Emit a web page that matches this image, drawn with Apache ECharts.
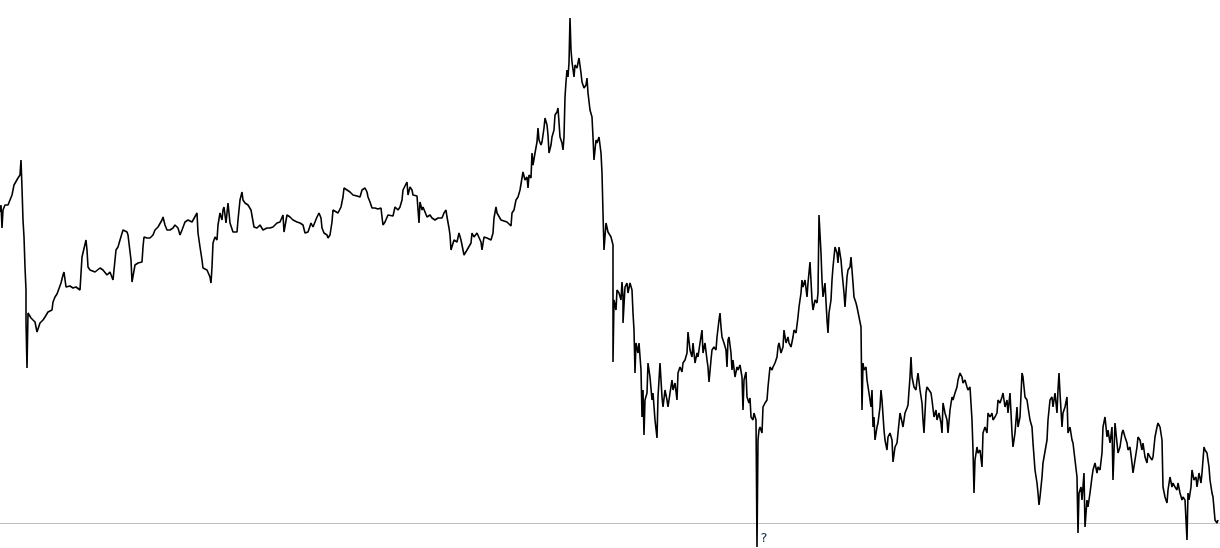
<!DOCTYPE html>
<html>
<head>
<meta charset="utf-8">
<title>price line</title>
<script src="https://cdn.jsdelivr.net/npm/echarts@6/dist/echarts.min.js"></script>
<style>
  html, body { margin: 0; padding: 0; background: #fff; }
  #chart { width: 1220px; height: 548px; }
</style>
</head>
<body>
<div id="chart"></div>
<script>
// time index of each sample
const t = [
  0, 1, 2, 3, 5, 8, 10, 12, 14, 16, 18, 20, 21, 22, 23, 24, 25, 26, 26, 27, 28, 30, 31, 33, 35, 37, 40, 43, 45, 48,
  50, 52, 53, 55, 57, 59, 61, 63, 64, 66, 68, 70, 73, 76, 78, 80, 82, 86, 87, 88, 90, 95, 100, 103, 107, 110, 113, 115, 116, 118,
  120, 123, 127, 128, 130, 131, 132, 135, 138, 142, 143, 144, 147, 150, 153, 155, 158, 162, 163, 165, 167, 170, 173,
  175, 178, 180, 182, 185, 188, 192, 194, 197, 198, 200, 202, 203, 205, 207, 208, 210, 211, 212, 213, 215, 217, 218, 220,
  222, 223, 224, 226, 228, 229, 230, 233, 237, 238, 240, 242, 243, 245, 248, 251, 253, 254, 257, 260, 263, 267, 270, 273,
  277, 280, 282, 283, 284, 287, 290, 293, 297, 300, 303, 305, 308, 311, 313, 317, 319, 321, 322, 324, 327, 328, 330, 332,
  333, 335, 338, 341, 343, 344, 347, 349,
  350, 353, 357, 360, 362, 365, 367, 368, 370, 372, 375, 378, 381, 382, 383, 385, 387, 388, 390, 393, 395, 397, 398, 400,
  402, 403, 405, 407, 408, 410, 412, 413, 415, 417, 418, 419, 420, 422, 423, 425, 427, 430, 432, 433, 435, 438, 442, 444,
  446, 447, 449, 450, 451, 453, 454, 456, 457, 459, 461, 463, 464, 467, 469, 471, 472, 474, 477, 479, 481, 482, 484, 487,
  491, 493, 494, 496, 497, 499, 501, 503, 507, 509, 511, 512, 514, 516, 518, 520, 522, 523, 524,
  525, 527, 528, 529, 531, 532, 533, 535, 537, 538, 539, 541, 542, 544, 545, 547, 548, 549, 551, 552, 554, 555, 557, 558,
  560, 562, 563, 564, 565, 566, 567, 568, 569, 570, 571, 572, 574, 575, 577, 578, 579, 581, 582, 584, 586, 587, 588, 590,
  592, 593, 594, 596, 597, 599, 601, 602, 603, 604, 606, 608, 609, 611, 613, 613, 614, 616, 617, 619, 621, 622, 623, 623,
  625, 627, 628, 630, 632, 633, 634, 635, 636, 638, 639, 641, 642, 643, 644, 645, 647, 648, 650, 652, 653, 655, 657, 658,
  660, 662, 663, 665, 667, 668, 670, 672, 673, 675, 677, 678, 680, 682, 683, 685, 687, 688, 690, 692, 693, 695, 697, 698,
  700, 702, 703, 705, 707, 708, 709, 711, 712, 714, 716, 717, 719, 720, 721, 722, 724, 726, 727, 728, 729, 731, 732, 733,
  735, 737, 738, 740, 742, 743, 744, 746, 747, 749, 750, 751, 753, 754, 756, 757, 758, 759, 760, 762, 763, 765, 767, 768,
  770, 772, 773, 775, 777, 778, 779, 781, 783, 784, 786, 788, 789, 791, 793, 794, 796, 798, 799, 801, 802, 803, 805, 807,
  808, 810, 812, 813, 815, 817, 818, 819, 821, 822, 823, 825, 827, 828, 829, 831, 832, 833, 835, 837, 838, 839, 841, 842,
  844, 845, 847, 848, 850, 851, 853, 854, 856, 857, 859, 861, 862, 863, 864, 866, 867, 869, 871, 872, 873, 874,
  875, 877, 878, 880, 881, 882, 884, 885, 887, 888, 890, 892, 893, 895, 897, 898, 900, 902, 903, 905, 907, 908, 910, 911,
  912, 914, 916, 917, 918, 920, 922, 923, 924, 926, 927, 929, 931, 932, 934, 936, 937, 939, 941, 942, 943, 945, 947, 948,
  950, 952, 953, 955, 957, 958, 960, 962, 963, 965, 967, 968, 970, 972, 973, 974, 975, 977, 978, 980, 982, 983, 985, 987,
  988, 990, 992, 993, 995, 997, 998, 1000, 1002, 1003, 1005, 1007, 1008, 1010, 1012, 1013, 1015, 1017, 1018, 1020, 1022, 1023, 1025, 1027,
  1028, 1030, 1032, 1033, 1035, 1037, 1038, 1039, 1040, 1042, 1043,
  1045, 1047, 1048, 1050, 1052, 1053, 1055, 1057, 1058, 1059, 1060, 1062, 1063, 1065, 1067, 1068, 1070, 1072, 1073, 1075, 1077, 1078, 1079, 1081,
  1082, 1084, 1085, 1087, 1088, 1090, 1092, 1093, 1095, 1097, 1098, 1100, 1102, 1103, 1105, 1107, 1108, 1110, 1112, 1113, 1115, 1117, 1118, 1120,
  1122, 1123, 1125, 1127, 1128, 1130, 1132, 1133, 1135, 1137, 1138, 1140, 1142, 1143, 1145, 1147, 1148, 1150, 1152, 1153, 1155, 1157, 1158, 1160,
  1162, 1163, 1165, 1167, 1168, 1170, 1172, 1173, 1175, 1177, 1178, 1180, 1182, 1183, 1185, 1187, 1188, 1189, 1191, 1192, 1194, 1196, 1197, 1199,
  1201, 1202, 1204, 1205, 1207, 1209, 1210, 1212, 1213, 1215, 1217, 1218
]

// price at each sample
const price = [
  311, 318, 295, 313, 318, 318, 320, 328, 338, 340, 345, 348, 363, 335, 303, 286, 256, 233, 201, 155, 210, 211, 205, 206, 201, 191, 200, 203, 206, 211,
  210, 213, 221, 226, 229, 231, 240, 248, 251, 236, 238, 237, 235, 236, 235, 233, 266, 283, 273, 256, 253, 251, 255, 253, 248, 251, 243, 245, 273, 276,
  283, 293, 291, 288, 286, 263, 241, 258, 260, 261, 276, 286, 285, 285, 288, 293, 296, 303, 306, 298, 293, 293, 295,
  298, 295, 288, 293, 301, 303, 301, 300, 310, 290, 276, 263, 255, 253, 253, 251, 246, 240, 256, 280, 286, 283, 298, 310,
  303, 313, 316, 300, 320, 310, 300, 291, 291, 303, 323, 331, 323, 320, 318, 313, 311, 296, 295, 298, 293, 295, 295, 296,
  300, 301, 300, 308, 291, 308, 306, 303, 301, 300, 298, 290, 291, 300, 296, 306, 310, 305, 295, 290, 288, 285, 288, 301,
  313, 311, 310, 316, 326, 335, 333, 335,
  331, 328, 327, 326, 333, 335, 331, 326, 321, 315, 315, 314, 315, 306, 298, 301, 300, 308, 307, 307, 316, 315, 313, 316,
  323, 333, 333, 341, 328, 336, 333, 328, 327, 327, 326, 300, 321, 313, 316, 311, 306, 308, 305, 306, 303, 305, 305, 310,
  313, 306, 295, 288, 273, 271, 283, 285, 281, 290, 283, 273, 268, 273, 275, 280, 290, 286, 290, 291, 281, 273, 286, 285,
  283, 290, 305, 316, 310, 308, 303, 301, 301, 300, 297, 310, 313, 323, 326, 333, 335, 351, 350,
  343, 346, 335, 348, 345, 370, 358, 370, 381, 395, 383, 378, 381, 395, 405, 398, 388, 370, 378, 386, 393, 408, 411, 415,
  386, 380, 373, 386, 426, 441, 453, 446, 460, 505, 473, 461, 446, 458, 455, 460, 465, 450, 441, 435, 438, 445, 430, 413,
  406, 386, 363, 383, 380, 386, 370, 350, 310, 273, 300, 291, 293, 286, 278, 161, 223, 213, 233, 230, 223, 241, 226, 200,
  236, 240, 230, 240, 233, 210, 193, 150, 180, 170, 180, 153, 106, 133, 88, 123, 130, 160, 146, 123, 130, 103, 85, 126,
  160, 126, 116, 133, 123, 116, 130, 143, 133, 140, 123, 150, 156, 151, 160, 163, 170, 191, 173, 166, 180, 160, 170, 166,
  180, 193, 170, 180, 163, 156, 141, 163, 173, 176, 173, 186, 203, 210, 196, 186, 180, 173, 156, 183, 186, 170, 153, 163,
  146, 156, 153, 158, 146, 113, 143, 151, 126, 120, 125, 106, 103, 110, 103, -24, 83, 93, 96, 90, 116, 120, 123, 136,
  156, 153, 156, 160, 166, 176, 180, 170, 176, 193, 180, 186, 180, 176, 186, 193, 190, 206, 216, 230, 243, 236, 243, 226,
  240, 261, 223, 213, 223, 220, 230, 308, 270, 243, 226, 240, 203, 190, 210, 223, 243, 256, 276, 270, 260, 276, 263, 251,
  230, 216, 246, 253, 256, 266, 240, 226, 220, 216, 206, 196, 113, 160, 153, 156, 143, 130, 116, 133, 96, 106,
  83, 96, 100, 116, 133, 123, 93, 83, 73, 86, 90, 83, 61, 76, 80, 78, 110, 101, 96, 110, 115, 118, 146, 166,
  146, 136, 133, 143, 150, 133, 120, 103, 90, 130, 136, 133, 130, 123, 106, 113, 103, 110, 100, 90, 120, 110, 103, 90,
  113, 126, 123, 130, 136, 143, 150, 146, 140, 143, 136, 133, 136, 103, 73, 30, 63, 76, 70, 73, 56, 90, 96, 90,
  110, 106, 110, 103, 106, 110, 123, 120, 126, 130, 116, 123, 110, 130, 90, 76, 90, 116, 96, 106, 150, 146, 126, 123,
  116, 103, 96, 80, 53, 40, 30, 18, 26, 46, 60,
  61, 83, 103, 123, 126, 116, 130, 110, 133, 150, 130, 96, 110, 116, 126, 90, 96, 83, 80, 63, 46, -10, 30, 36,
  23, 50, -4, 23, 16, 30, 46, 53, 60, 50, 56, 53, 70, 96, 106, 86, 93, 80, 96, 43, 100, 80, 70, 76,
  90, 93, 86, 80, 73, 76, 60, 50, 63, 76, 86, 83, 73, 80, 66, 60, 70, 66, 63, 66, 86, 96, 100, 96,
  83, 36, 26, 20, 33, 46, 36, 40, 36, 33, 40, 30, 23, 26, 23, -17, 30, 23, 36, 53, 43, 46, 36, 50,
  40, 50, 76, 73, 70, 56, 43, 30, 26, 3, 0, 3
]

// the single label printed under the base line
const labelAt = [764]
const labelText = ['?']

const chart = echarts.init(document.getElementById('chart'))

chart.setOption({
  animation: false,
  backgroundColor: '#fff',
  grid: { left: 0, right: 0, top: 0, bottom: 25, outerBoundsMode: 'none', containLabel: false },
  xAxis: {
    type: 'value',
    min: 0,
    max: 1220,
    axisLine: { lineStyle: { color: '#c0c0c0', width: 1 } },
    axisTick: { show: false },
    splitLine: { show: false },
    axisLabel: {
      customValues: labelAt,
      formatter: v => labelText[labelAt.indexOf(v)] ?? '',
      color: '#14264a',
      fontFamily: 'DejaVu Sans',
      fontSize: 13,
      margin: 9
    }
  },
  yAxis: {
    type: 'value',
    min: 0,
    max: 523,
    show: false
  },
  series: [
    {
      type: 'line',
      data: t.map((x, i) => [x, price[i]]),
      showSymbol: false,
      clip: false,
      lineStyle: { color: '#000', width: 1.6 },
      silent: true
    }
  ]
})
</script>
</body>
</html>
